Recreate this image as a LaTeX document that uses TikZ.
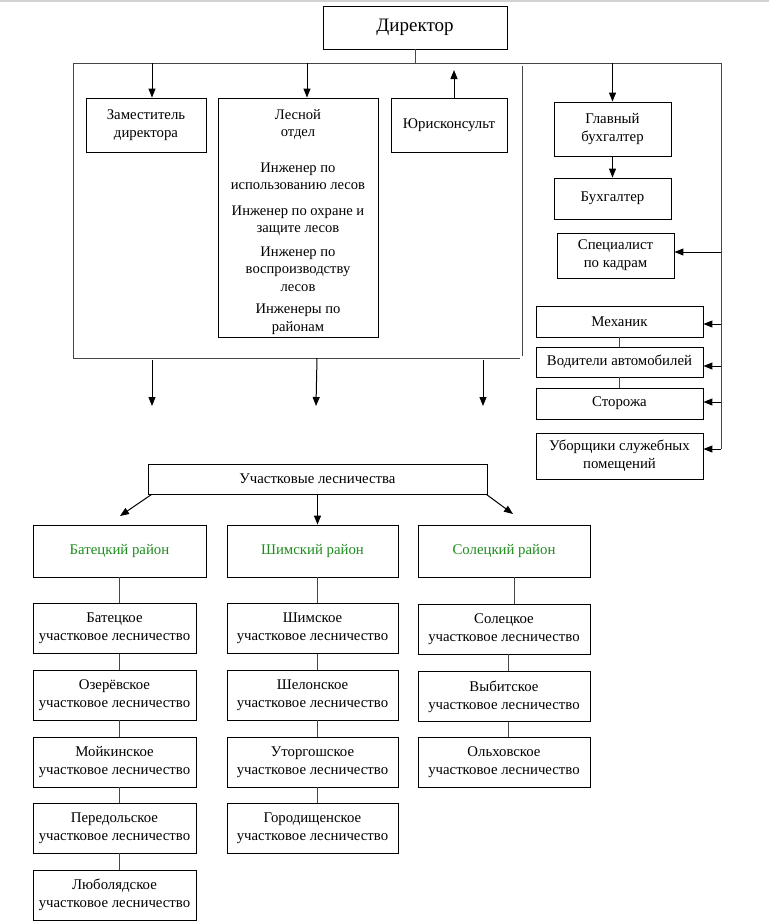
\documentclass[tikz,border=0pt]{standalone}
\usepackage{fontspec}
\setmainfont{Liberation Serif}
\usetikzlibrary{arrows.meta,calc}
\definecolor{distgreen}{RGB}{30,140,30}
\definecolor{linegray}{RGB}{70,70,70}
\begin{document}
\begin{tikzpicture}[x=1pt,y=-1pt,
  box/.style={draw=black,line width=0.9pt,rectangle,inner sep=2pt,align=center,
     font=\fontsize{14.8}{18}\selectfont},
  lbox/.style={box,minimum width=163pt,minimum height=50pt},
  ln/.style={draw=linegray,line width=1pt},
  arr/.style={draw=black,line width=1pt,-{Triangle[length=9pt,width=7pt]}},
  dist/.style={box,text=distgreen,minimum height=52pt}]
\useasboundingbox (0,0) rectangle (769,922);
\draw[gray!35,line width=1.5pt] (0,0.75) -- (769,0.75);
% top part
\node[box,minimum width=184pt,minimum height=43pt,font=\fontsize{19}{22}\selectfont] (dir) at (415,27.5) {Директор};
\coordinate (tl) at (73,63);
\coordinate (tr) at (721,63);
\coordinate (bl) at (73,358);
\coordinate (br) at (520,358);
\coordinate (mt) at (522,66);
\coordinate (mb) at (522,356);
\draw[ln] (dir.south) -- (dir.south |- tl);
\draw[ln] (tl) -- (tr);
\draw[ln] (tl) -- (bl) -- (br);
\draw[ln] (mt) -- (mb);
\coordinate (rb) at (721,449);
\draw[ln] (tr) -- (rb);

\node[box,minimum width=120pt,minimum height=54pt] (zam) at (146,125) {Заместитель\\директора};
\node[box,minimum width=160pt,minimum height=239pt] (les) at (298,217.5) {};
\node[anchor=north,inner sep=0pt,align=center,font=\fontsize{14.6}{17.3}\selectfont] (lestext) at (298,109)
 {Лесной\\отдел\\[18.5pt]Инженер по\\использованию лесов\\[8.5pt]Инженер по охране и\\защите лесов\\[6.5pt]Инженер по\\воспроизводству\\лесов\\[5.5pt]Инженеры по\\районам};
\node[box,minimum width=116pt,minimum height=54pt] (jur) at (449,125) {Юрисконсульт};
\coordinate (jurtip) at (454,70);

\draw[arr] ([xshift=6pt]zam.north |- tl) -- ([xshift=6pt]zam.north);
\draw[arr] ([xshift=9pt]les.north |- tl) -- ([xshift=9pt]les.north);
\draw[arr] ([xshift=5pt]jur.north) -- (jurtip);

% right column
\node[box,minimum width=117pt,minimum height=54pt] (gb) at (612.5,129) {Главный\\бухгалтер};
\node[box,minimum width=117pt,minimum height=41pt] (buh) at (612.5,198.5) {Бухгалтер};
\node[box,minimum width=117pt,minimum height=45pt] (kadr) at (615.5,255.5) {Специалист\\по кадрам};
\node[box,minimum width=167pt,minimum height=31pt] (mech) at (619.5,321.5) {Механик};
\node[box,minimum width=167pt,minimum height=30pt] (vod) at (619.5,362) {Водители автомобилей};
\node[box,minimum width=167pt,minimum height=31pt] (stor) at (619.5,403.5) {Сторожа};
\node[box,minimum width=167pt,minimum height=46pt] (ubor) at (619.5,456) {Уборщики служебных\\помещений};

\draw[arr] (gb.north |- tr) -- (gb.north);
\draw[arr] (gb.south) -- (buh.north);
\draw[arr] ([yshift=3.5pt]kadr.east -| tr) -- ([yshift=3.5pt]kadr.east);
\draw[arr] ([yshift=-2.5pt]mech.east -| tr) -- ([yshift=-2.5pt]mech.east);
\draw[arr] ([yshift=-4pt]vod.east -| tr) -- ([yshift=-4pt]vod.east);
\draw[arr] ([yshift=1.5pt]stor.east -| tr) -- ([yshift=1.5pt]stor.east);
\draw[arr] (rb) -- (rb -| ubor.east);
\draw[ln] (mech.south) -- (vod.north);
\draw[ln] (vod.south) -- (stor.north);

% arrows down from frame
\coordinate (d1s) at (152,360);
\coordinate (d1e) at (152,406);
\coordinate (d2s) at (317,358);
\coordinate (d2e) at (316,406);
\coordinate (d3s) at (483,360);
\coordinate (d3e) at (483,406);
\draw[arr] (d1s) -- (d1e);
\draw[arr] (d2s) -- (d2e);
\draw[arr] (d3s) -- (d3e);

% bottom part
\node[box,minimum width=339pt,minimum height=30pt] (uch) at (317.5,479) {Участковые лесничества};
\node[dist,minimum width=173pt] (bat) at (119.5,551) {Батецкий район};
\node[dist,minimum width=171pt] (shim) at (312.5,551) {Шимский район};
\node[dist,minimum width=172pt] (sol) at (504,551) {Солецкий район};
\coordinate (tipl) at (120,516);
\coordinate (tipr) at (513,514);
\draw[arr] ([xshift=4pt]uch.south west) -- (tipl);
\draw[arr] (uch.south) -- (uch.south |- shim.north);
\draw[arr] ([xshift=-1pt]uch.south east) -- (tipr);

\node[lbox] (b1) at (114.5,628.5) {Батецкое\\участковое лесничество};
\node[lbox] (b2) at (114.5,695) {Озерёвское\\участковое лесничество};
\node[lbox] (b3) at (114.5,762) {Мойкинское\\участковое лесничество};
\node[lbox] (b4) at (114.5,828) {Передольское\\участковое лесничество};
\node[lbox] (b5) at (114.5,895) {Люболядское\\участковое лесничество};

\node[lbox,minimum width=171pt] (s1) at (312.5,628.5) {Шимское\\участковое лесничество};
\node[lbox,minimum width=171pt] (s2) at (312.5,695) {Шелонское\\участковое лесничество};
\node[lbox,minimum width=171pt] (s3) at (312.5,762) {Уторгошское\\участковое лесничество};
\node[lbox,minimum width=171pt] (s4) at (312.5,828) {Городищенское\\участковое лесничество};

\node[lbox,minimum width=172pt] (o1) at (504,629) {Солецкое\\участковое лесничество};
\node[lbox,minimum width=172pt] (o2) at (504,696.5) {Выбитское\\участковое лесничество};
\node[lbox,minimum width=172pt] (o3) at (504,762.5) {Ольховское\\участковое лесничество};

\draw[ln] (bat.south) -- (bat.south |- b1.north);
\draw[ln] (bat.south |- b1.south) -- (bat.south |- b2.north);
\draw[ln] (bat.south |- b2.south) -- (bat.south |- b3.north);
\draw[ln] (bat.south |- b3.south) -- (bat.south |- b4.north);
\draw[ln] (bat.south |- b4.south) -- (bat.south |- b5.north);

\draw[ln] ([xshift=4.5pt]shim.south) -- ([xshift=4.5pt]shim.south |- s1.north);
\draw[ln] ([xshift=4.5pt]shim.south |- s1.south) -- ([xshift=4.5pt]shim.south |- s2.north);
\draw[ln] ([xshift=4.5pt]shim.south |- s2.south) -- ([xshift=4.5pt]shim.south |- s3.north);
\draw[ln] ([xshift=4.5pt]shim.south |- s3.south) -- ([xshift=4.5pt]shim.south |- s4.north);

\draw[ln] ([xshift=10pt]sol.south) -- ([xshift=10pt]sol.south |- o1.north);
\draw[ln] ([xshift=4pt]o1.south) -- ([xshift=4pt]o2.north);
\draw[ln] ([xshift=4pt]o2.south) -- ([xshift=4pt]o3.north);
\end{tikzpicture}
\end{document}
